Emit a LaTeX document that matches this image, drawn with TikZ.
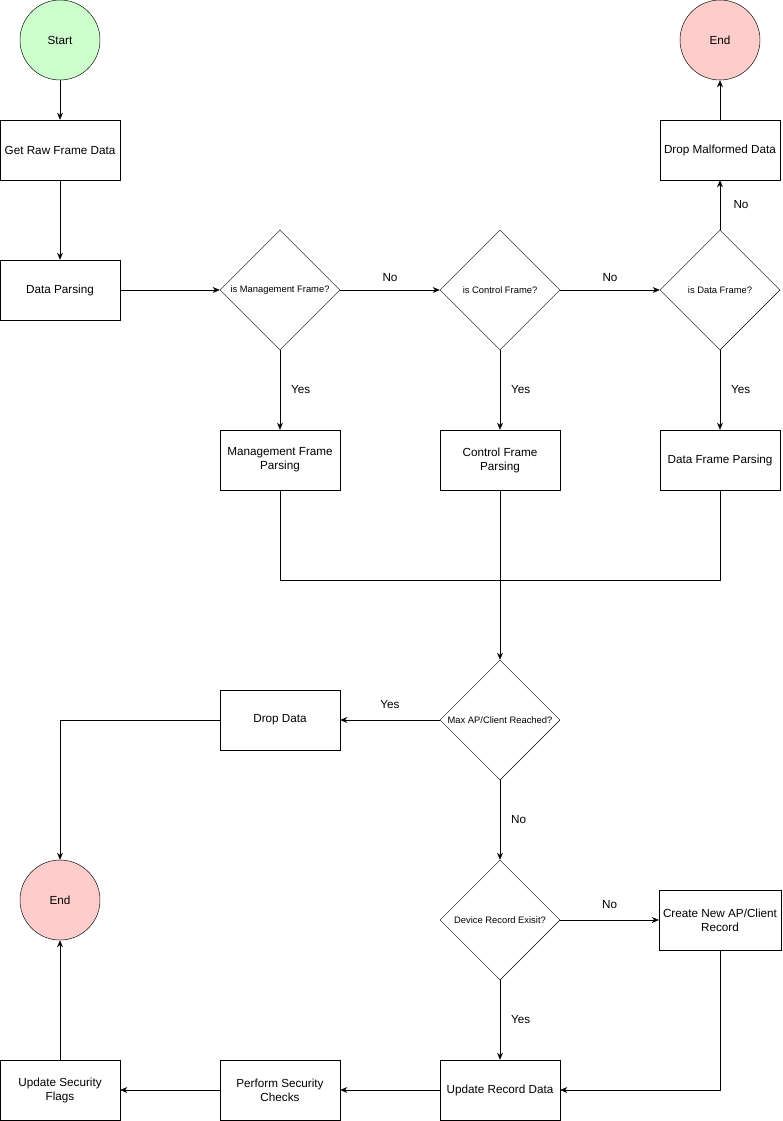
\documentclass[tikz,border=0pt]{standalone}
\usepackage{fontspec}
\setmainfont{Liberation Sans}
\usetikzlibrary{shapes.geometric,arrows.meta}
\definecolor{startgreen}{HTML}{CCFFCC}
\definecolor{endred}{HTML}{FFCCCC}
\tikzset{
  box/.style={draw, rectangle, minimum width=3.6cm, minimum height=1.8cm, align=center, font=\fontsize{10}{12}\selectfont},
  dec/.style={draw, diamond, minimum width=3.6cm, minimum height=3.6cm, inner sep=0pt, font=\fontsize{8}{10}\selectfont},
  term/.style={draw, circle, minimum size=2.4cm, font=\fontsize{10}{12}\selectfont},
  arr/.style={-{Stealth[length=6pt,width=5pt]}},
  lbl/.style={font=\fontsize{10}{12}\selectfont}
}
\begin{document}
\begin{tikzpicture}[x=0.03cm, y=-0.03cm]
  \useasboundingbox (0,0) rectangle (782,1121);

  % top row
  \node[term, fill=startgreen] (start) at (60,40) {Start};
  \node[box] (raw) at (60,150) {Get Raw Frame Data};
  \node[box] (parse) at (60,290) {Data Parsing};
  \node[dec] (ismgmt) at (280,290) {is Management Frame?};
  \node[dec] (isctrl) at (500,290) {is Control Frame?};
  \node[dec] (isdata) at (720,290) {is Data Frame?};
  \node[box] (malformed) at (720,150) {Drop Malformed Data};
  \node[term, fill=endred] (endtop) at (720,40) {End};

  % frame parsers
  \node[box] (mgmt) at (280,460) {Management Frame\\Parsing};
  \node[box] (ctrl) at (500,460) {Control Frame\\Parsing};
  \node[box] (data) at (720,460) {Data Frame Parsing};
  \coordinate (merge) at (500,580);

  % records
  \node[dec] (maxap) at (500,720) {Max AP/Client Reached?};
  \node[box] (drop) at (280,720) {Drop Data};
  \node[term, fill=endred] (endleft) at (60,900) {End};
  \node[dec] (exists) at (500,920) {Device Record Exisit?};
  \node[box] (create) at (720,920) {Create New AP/Client\\Record};
  \node[box] (update) at (500,1090) {Update Record Data};
  \node[box] (checks) at (280,1090) {Perform Security\\Checks};
  \node[box] (flags) at (60,1090) {Update Security\\Flags};

  \draw[arr] (start) -- (raw);
  \draw[arr] (raw) -- (parse);
  \draw[arr] (parse) -- (ismgmt);
  \draw[arr] (ismgmt) -- node[lbl, above=4pt] {No} (isctrl);
  \draw[arr] (isctrl) -- node[lbl, above=4pt] {No} (isdata);
  \draw[arr] (isdata) -- node[lbl, right=8pt] {No} (malformed);
  \draw[arr] (malformed) -- (endtop);
  \draw[arr] (ismgmt) -- node[lbl, right=6pt] {Yes} (mgmt);
  \draw[arr] (isctrl) -- node[lbl, right=6pt] {Yes} (ctrl);
  \draw[arr] (isdata) -- node[lbl, right=6pt] {Yes} (data);
  \draw (mgmt) |- (merge);
  \draw (data) |- (merge);
  \draw (ctrl) -- (merge);
  \draw[arr] (merge) -- (maxap);
  \draw[arr] (maxap) -- node[lbl, above=6pt] {Yes} (drop);
  \draw[arr] (drop.west) -| (endleft.north);
  \draw[arr] (maxap) -- node[lbl, right=6pt] {No} (exists);
  \draw[arr] (exists) -- node[lbl, above=6pt] {No} (create);
  \draw[arr] (exists) -- node[lbl, right=6pt] {Yes} (update);
  \draw[arr] (create.south) |- (update.east);
  \draw[arr] (update) -- (checks);
  \draw[arr] (checks) -- (flags);
  \draw[arr] (flags) -- (endleft);
\end{tikzpicture}
\end{document}
